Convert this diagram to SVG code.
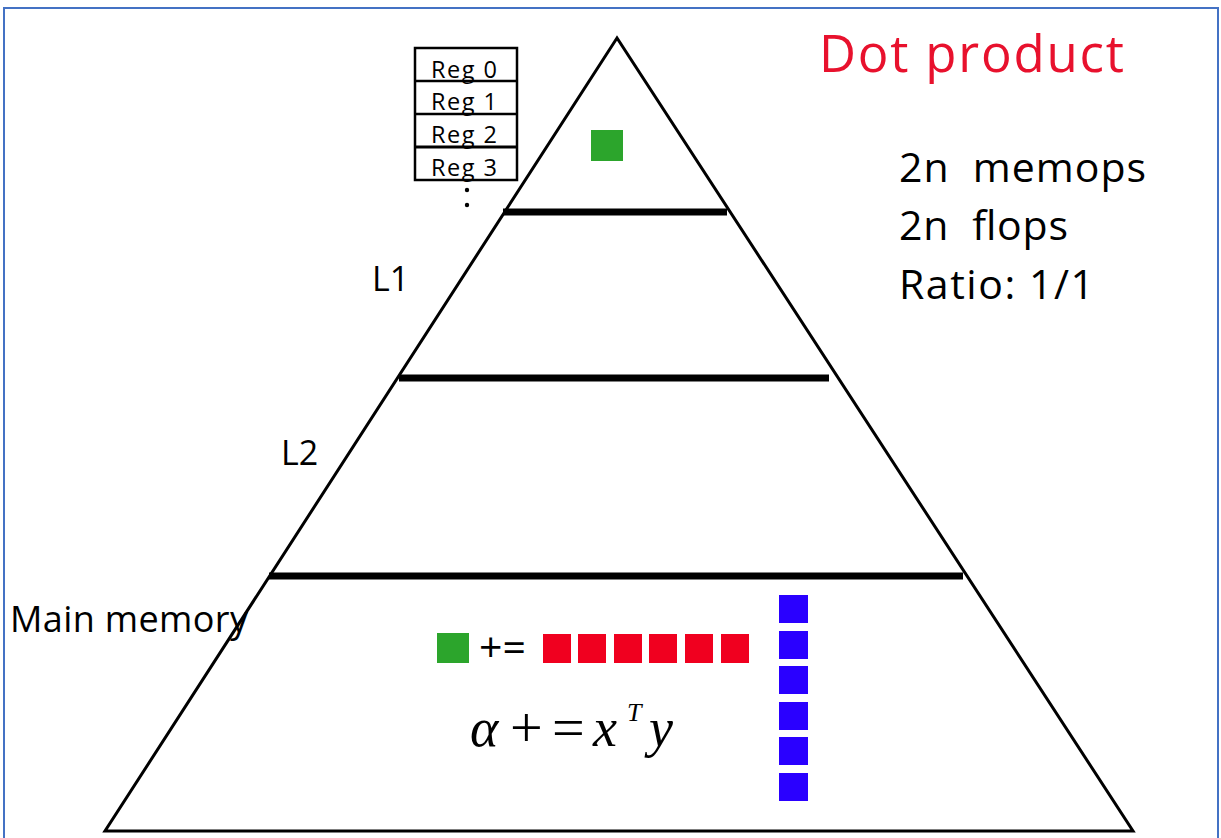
<svg xmlns="http://www.w3.org/2000/svg" width="1221" height="838" viewBox="0 0 1221 838">
<style>
.t{font-family:"Open Sans","Liberation Sans",sans-serif;fill:#000;white-space:pre}
.reg{font-size:23.5px}
.bar{stroke:#000;stroke-width:7}
.g{fill:#2ca52c}
.r{fill:#f0001f}
.b{fill:#2a00ff}
.m{font-family:"Liberation Serif",serif;font-style:italic;fill:#000}
.u{font-family:"Liberation Serif",serif;fill:#000}
</style>
<rect x="0" y="0" width="1221" height="838" fill="#fff"/>
<rect x="4" y="8" width="1214" height="840" fill="none" stroke="#4472c4" stroke-width="2"/>
<g id="pyramid">
<polygon points="617,38 105,831 1133,831" fill="none" stroke="#000" stroke-width="3" stroke-linejoin="miter"/>
<line class="bar" x1="503" y1="212" x2="727" y2="212"/>
<line class="bar" x1="399" y1="378" x2="829" y2="378"/>
<line class="bar" x1="269" y1="576" x2="963" y2="576"/>
</g>
<g id="registers">
<rect x="415" y="48" width="102" height="132" fill="#fff" stroke="#000" stroke-width="2.5"/>
<text class="t reg" x="431" y="78" textLength="66">Reg 0</text>
<text class="t reg" x="431" y="110" textLength="66">Reg 1</text>
<text class="t reg" x="431" y="143" textLength="66">Reg 2</text>
<text class="t reg" x="431" y="176" textLength="66">Reg 3</text>
<line x1="415" y1="81" x2="517" y2="81" stroke="#000" stroke-width="2.5"/>
<line x1="415" y1="114" x2="517" y2="114" stroke="#000" stroke-width="2.5"/>
<line x1="415" y1="147" x2="517" y2="147" stroke="#000" stroke-width="3"/>
<circle cx="467" cy="190" r="2.2" fill="#000"/>
<circle cx="467" cy="205" r="2.2" fill="#000"/>
</g>
<rect id="reg-value" class="g" x="591" y="130" width="32" height="31"/>
<g id="labels">
<text class="t" x="819" y="72" font-size="51" textLength="305" style="fill:#e8112d">Dot product</text>
<text class="t" x="899" y="182" font-size="41" textLength="247">2n  memops</text>
<text class="t" x="899" y="240" font-size="41" textLength="169">2n  flops</text>
<text class="t" x="899" y="299" font-size="41" textLength="195">Ratio: 1/1</text>
<text class="t" x="372" y="291" font-size="34">L1</text>
<text class="t" x="281" y="465" font-size="34">L2</text>
<text class="t" x="10" y="632" font-size="36" textLength="238">Main memory</text>
</g>
<g id="equation">
<rect class="g" x="437" y="633" width="32" height="30"/>
<text class="t" x="479" y="662" font-size="41">+=</text>
<rect class="r" x="543" y="634" width="28" height="29"/>
<rect class="r" x="578" y="634" width="28" height="29"/>
<rect class="r" x="614" y="634" width="28" height="29"/>
<rect class="r" x="649" y="634" width="28" height="29"/>
<rect class="r" x="685" y="634" width="28" height="29"/>
<rect class="r" x="721" y="634" width="28" height="29"/>
<rect class="b" x="779" y="595" width="29" height="28"/>
<rect class="b" x="779" y="631" width="29" height="28"/>
<rect class="b" x="779" y="666" width="29" height="28"/>
<rect class="b" x="779" y="702" width="29" height="28"/>
<rect class="b" x="779" y="737" width="29" height="28"/>
<rect class="b" x="779" y="773" width="29" height="28"/>
<text class="m" x="470" y="746" font-size="54">α</text>
<text class="u" x="510" y="747" font-size="58">+</text>
<text class="u" x="552" y="747" font-size="58">=</text>
<text class="m" x="593" y="746" font-size="54">x</text>
<text class="m" x="627" y="721" font-size="26">T</text>
<text class="m" x="649" y="746" font-size="54">y</text>
</g>
</svg>
